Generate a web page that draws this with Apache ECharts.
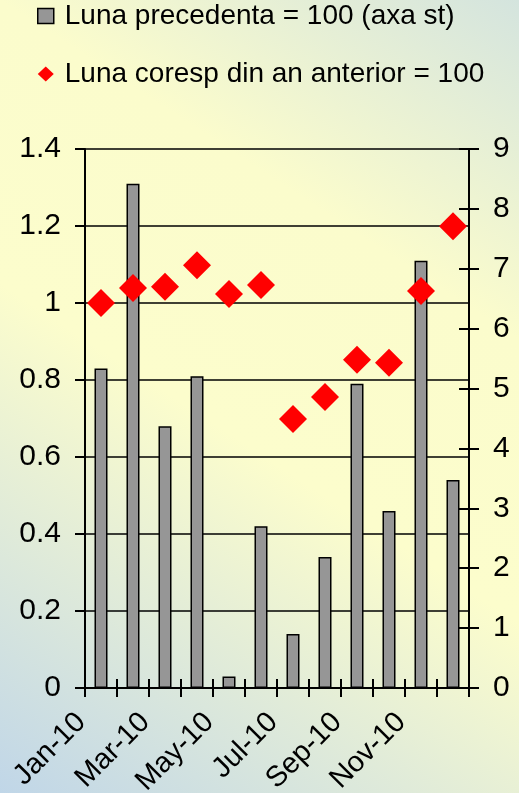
<!DOCTYPE html>
<html>
<head>
<meta charset="utf-8">
<script src="https://cdn.jsdelivr.net/npm/echarts@6/dist/echarts.min.js"></script>
<style>
  html, body { margin: 0; padding: 0; }
  #chart { width: 519px; height: 793px; }
</style>
</head>
<body>
<div id="chart"></div>
<script>
var months = ['Jan-10', 'Feb-10', 'Mar-10', 'Apr-10', 'May-10', 'Jun-10',
  'Jul-10', 'Aug-10', 'Sep-10', 'Oct-10', 'Nov-10', 'Dec-10'];
// luna precedenta = 100 (axa stanga)
var prevMonth = [0.83, 1.31, 0.68, 0.81, 0.03, 0.42, 0.14, 0.34, 0.79, 0.46, 1.11, 0.54];
// luna corespunzatoare din an anterior = 100 (axa dreapta)
var prevYear = [6.43, 6.68, 6.70, 7.06, 6.58, 6.73, 4.49, 4.86, 5.48, 5.43, 6.63, 7.71];
var leftTicks = [0, 0.2, 0.4, 0.6, 0.8, 1, 1.2, 1.4];
var rightTicks = [0, 1, 2, 3, 4, 5, 6, 7, 8, 9];

var nameBar = 'Luna precedenta = 100 (axa st)';
var nameDot = 'Luna coresp din an anterior = 100';

var chartDom = document.getElementById('chart');
var myChart = echarts.init(chartDom);
var font = 'Liberation Sans, Arial, sans-serif';

var option = {
  backgroundColor: new echarts.graphic.LinearGradient(0, 1, 1, 0, [
    { offset: 0, color: '#c0d6e8' },
    { offset: 0.45, color: '#fcfdcc' },
    { offset: 0.7, color: '#fbfccc' },
    { offset: 1, color: '#d4e4de' }
  ]),
  animation: false,
  textStyle: { fontFamily: font },
  legend: {
    orient: 'vertical',
    left: 37,
    top: 1,
    padding: 0,
    itemGap: 28,
    itemWidth: 16,
    itemHeight: 15,
    textStyle: { fontSize: 28, color: '#000', lineHeight: 30, padding: [0, 0, 0, 6] },
    data: [
      { name: nameBar, icon: 'rect', itemStyle: { color: '#969696', borderColor: '#000', borderWidth: 1.5 } },
      { name: nameDot, icon: 'diamond', itemStyle: { color: '#ff0000', opacity: 1 } }
    ]
  },
  grid: { left: 85, right: 50, top: 149, bottom: 105, outerBoundsMode: 'none', containLabel: false },
  xAxis: [
    {
      type: 'category',
      data: months,
      axisLine: { lineStyle: { color: '#000', width: 2 } },
      axisTick: { show: true, interval: 0, length: 9, lineStyle: { color: '#000', width: 2 } },
      axisLabel: {
        interval: 1,
        rotate: 45,
        fontSize: 29,
        color: '#000',
        margin: 10,
        padding: [0, 28, 0, 0]
      }
    },
    {
      type: 'category',
      data: months,
      position: 'bottom',
      axisLine: { show: false },
      axisTick: { show: true, interval: 0, inside: true, length: 9, lineStyle: { color: '#000', width: 2 } },
      axisLabel: { show: false }
    }
  ],
  yAxis: [
    {
      type: 'value',
      min: leftTicks[0],
      max: leftTicks[leftTicks.length - 1],
      interval: 0.2,
      axisLine: { show: true, lineStyle: { color: '#000', width: 2 } },
      axisTick: { show: true, length: 10, lineStyle: { color: '#000', width: 2 } },
      axisLabel: { fontSize: 30, color: '#000', margin: 24 },
      splitLine: { lineStyle: { color: '#000', width: 1.5 } }
    },
    {
      type: 'value',
      min: rightTicks[0],
      max: rightTicks[rightTicks.length - 1],
      interval: 1,
      position: 'right',
      axisLine: { show: true, lineStyle: { color: '#000', width: 2 } },
      axisTick: { show: true, length: 10, lineStyle: { color: '#000', width: 2 } },
      axisLabel: { fontSize: 30, color: '#000', margin: 24 },
      splitLine: { show: false }
    },
    {
      type: 'value',
      min: rightTicks[0],
      max: rightTicks[rightTicks.length - 1],
      interval: 1,
      position: 'right',
      axisLine: { show: false },
      axisTick: { show: true, inside: true, length: 10, lineStyle: { color: '#000', width: 2 } },
      axisLabel: { show: false },
      splitLine: { show: false }
    }
  ],
  series: [
    {
      name: nameBar,
      type: 'bar',
      yAxisIndex: 0,
      barWidth: 13,
      data: prevMonth,
      itemStyle: { color: '#969696', borderColor: '#000', borderWidth: 1.5 }
    },
    {
      name: nameDot,
      type: 'scatter',
      yAxisIndex: 1,
      symbol: 'diamond',
      symbolSize: 28,
      data: prevYear,
      itemStyle: { color: '#ff0000', opacity: 1 },
      z: 5
    }
  ]
};

option && myChart.setOption(option);
</script>
</body>
</html>
